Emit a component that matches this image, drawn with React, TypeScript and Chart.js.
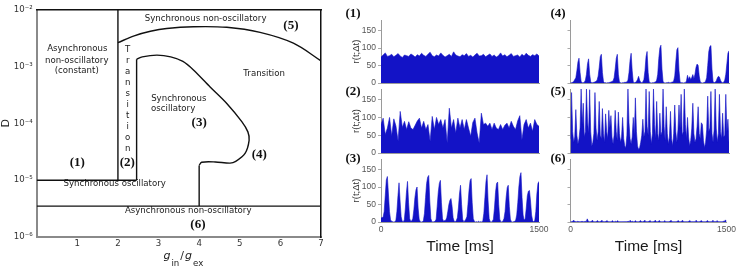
import React, { useEffect, useRef } from 'react';
import { Chart, registerables } from 'chart.js';

Chart.register(...registerables);

const BLUE = '#1313c6';
const TIME_MAX = 1500;

// ---------- Phase diagram data (x: g_in/g_ex, y: log10 D) ----------
const lowSyncTopG = [0, 2.46];
const lowSyncTopLogD = [-5, -5];
const transitionLeftG = [2, 2];
const transitionLeftLogD = [-5, -2];
const transitionRightG = [2.46, 2.46];
const transitionRightLogD = [-5, -2.873];
const oscBoundaryG = [2.46, 2.6, 2.96, 3.3, 3.6, 3.86, 4.27, 4.68, 5.05, 5.2, 5.23, 5.13, 4.9, 4.76, 4.4, 4.06, 4.0];
const oscBoundaryLogD = [-2.873, -2.83, -2.8, -2.83, -2.91, -3.06, -3.36, -3.65, -3.97, -4.15, -4.3, -4.53, -4.67, -4.7, -4.68, -4.685, -4.74];
const oscStemG = [4.0, 4.0];
const oscStemLogD = [-4.74, -5.456];
const asyncTopG = [0, 7];
const asyncTopLogD = [-5.456, -5.456];
const upperBoundaryG = [2, 2.4, 2.8, 3.2, 3.86, 4.68, 5.5, 6.32, 7];
const upperBoundaryLogD = [-2.58, -2.46, -2.38, -2.33, -2.3, -2.31, -2.4, -2.59, -2.9];

const regionTexts = ['Asynchronous', 'non-oscillatory', '(constant)', 'Synchronous non-oscillatory', 'Transition', 'Synchronous', 'oscillatory', 'Synchronous oscillatory', 'Asynchronous non-oscillatory'];
const regionTextG = [1.0, 0.985, 0.985, 4.16, 5.6, 3.5, 3.36, 1.92, 3.73];
const regionTextLogD = [-2.69, -2.9, -3.08, -2.152, -3.12, -3.56, -3.74, -5.056, -5.544];
const regionIds = ['(1)', '(2)', '(3)', '(4)', '(5)', '(6)'];
const regionIdG = [1.0, 2.23, 4.0, 5.48, 6.26, 3.97];
const regionIdLogD = [-4.687, -4.687, -3.98, -4.558, -2.287, -5.79];
const verticalText = 'Transition';
const verticalTextG = 2.24;
const verticalTextLogD = -2.697;

// ---------- Population rate histograms r(t;Δt), 0..1500 ms ----------
const rate1 = [
  74, 80, 86, 76, 78, 82, 75, 79, 84, 77,
  73, 80, 78, 76, 83, 79, 74, 81, 77, 85,
  79, 76, 82, 88, 78, 75, 80, 77, 86, 79,
  74, 78, 82, 76, 89, 80, 77, 75, 81, 78,
  84, 76, 79, 74, 80, 85, 77, 78, 82, 75,
  79, 83, 76, 80, 74, 78, 86, 77, 81, 75,
  79, 84, 76, 78, 80, 74, 82, 77, 85, 79,
  76, 81, 78, 83, 77,
];
const rate2 = [
  80, 98, 52, 70, 100, 48, 96, 76, 34, 117,
  72, 89, 66, 88, 70, 66, 78, 90, 98, 70,
  89, 66, 80, 33, 103, 66, 100, 80, 94, 70,
  94, 28, 126, 70, 94, 56, 98, 70, 94, 66,
  94, 70, 47, 86, 98, 56, 28, 112, 80, 84,
  75, 84, 66, 84, 70, 66, 80, 66, 78, 84,
  70, 89, 75, 66, 90, 105, 37, 80, 94, 70,
  84, 61, 94, 80, 75,
];
const rate3 = [
  12, 12, 14, 30, 75, 120, 130, 80, 30, 6,
  2, 1, 0, 1, 4, 30, 75, 112, 60, 15,
  2, 1, 6, 40, 85, 116, 55, 10, 2, 3,
  10, 35, 70, 92, 100, 40, 8, 1, 0, 1,
  4, 25, 70, 110, 128, 133, 60, 10, 1, 0,
  1, 2, 8, 45, 85, 110, 119, 55, 10, 2,
  4, 5, 12, 30, 50, 62, 67, 45, 12, 2,
  1, 4, 12, 40, 80, 105, 50, 8, 1, 3,
  8, 15, 50, 90, 118, 124, 55, 10, 2, 0,
  1, 0, 2, 0, 1, 0, 3, 25, 70, 115,
  135, 60, 10, 1, 0, 2, 8, 40, 85, 110,
  114, 50, 8, 1, 0, 3, 10, 30, 70, 98,
  105, 45, 8, 1, 0, 1, 2, 5, 20, 55,
  100, 130, 141, 70, 20, 5, 10, 40, 75, 88,
  90, 60, 20, 4, 1, 4, 30, 80, 110, 116,
];
const rate4 = [
  1, 1, 2, 4, 10, 15, 35, 60, 71, 30,
  4, 1, 1, 2, 8, 25, 55, 69, 25, 3,
  1, 1, 2, 3, 5, 8, 20, 45, 75, 82,
  30, 4, 1, 1, 0, 1, 1, 2, 3, 4,
  6, 15, 40, 70, 82, 25, 3, 1, 0, 1,
  1, 2, 2, 3, 8, 30, 65, 85, 35, 3,
  1, 2, 4, 10, 19, 8, 2, 1, 3, 10,
  35, 75, 90, 30, 3, 1, 0, 1, 1, 2,
  3, 8, 25, 70, 100, 108, 40, 4, 1, 0,
  1, 1, 2, 1, 1, 2, 3, 6, 20, 60,
  95, 101, 35, 3, 1, 1, 0, 1, 1, 6,
  22, 10, 18, 10, 16, 24, 12, 25, 45, 54,
  50, 20, 3, 1, 0, 1, 2, 5, 15, 50,
  90, 104, 107, 40, 4, 1, 2, 6, 14, 19,
  17, 8, 2, 1, 2, 8, 25, 55, 85, 92,
];
const rate5 = [
  40, 170, 60, 30, 45, 122, 50, 25, 40, 70,
  180, 80, 140, 45, 60, 180, 90, 55, 178, 60,
  20, 30, 55, 170, 70, 35, 60, 145, 50, 40,
  125, 55, 30, 110, 60, 40, 120, 70, 105, 45,
  25, 50, 120, 60, 35, 115, 55, 30, 45, 100,
  40, 20, 15, 50, 180, 85, 40, 25, 45, 100,
  50, 155, 60, 20, 10, 15, 30, 50, 95, 45,
  60, 180, 75, 50, 173, 60, 25, 55, 180, 80,
  40, 145, 55, 35, 112, 50, 60, 180, 75, 35,
  130, 55, 25, 45, 117, 40, 20, 55, 135, 60,
  30, 65, 135, 70, 165, 50, 60, 180, 80, 40,
  100, 45, 20, 35, 70, 140, 55, 30, 40, 75,
  130, 55, 40, 85, 80, 35, 15, 30, 65, 160,
  60, 70, 173, 55, 30, 65, 180, 70, 30, 55,
  165, 60, 40, 112, 45, 50, 165, 60, 95, 30,
];
const rate6 = [
  2, 1, 2, 5, 2, 1, 1, 2, 1, 1,
  1, 2, 1, 1, 2, 1, 9, 2, 1, 1,
  2, 5, 1, 1, 1, 2, 4, 1, 1, 2,
  5, 1, 1, 1, 2, 4, 1, 1, 1, 1,
  4, 1, 1, 2, 1, 4, 1, 1, 1, 1,
  1, 1, 1, 1, 1, 2, 1, 5, 1, 2,
  1, 1, 4, 1, 1, 1, 2, 4, 1, 1,
  2, 5, 1, 1, 1, 2, 4, 1, 1, 1,
  2, 5, 1, 1, 2, 4, 1, 1, 1, 1,
  4, 1, 1, 1, 1, 2, 5, 1, 1, 1,
  1, 1, 2, 4, 1, 1, 2, 5, 1, 1,
  1, 1, 1, 2, 4, 1, 1, 1, 1, 1,
  5, 1, 1, 1, 2, 4, 1, 1, 1, 1,
  2, 4, 1, 1, 1, 1, 5, 1, 1, 1,
  4, 1, 1, 1, 1, 1, 2, 2, 6, 2,
];
const panelLabels = ['(1)', '(2)', '(3)', '(4)', '(5)', '(6)'];
const panelRates = [rate1, rate2, rate3, rate4, rate5, rate6];

// ---------- helpers ----------
const SUP: Record<string, string> = { '-': '⁻', '0': '⁰', '1': '¹', '2': '²', '3': '³', '4': '⁴', '5': '⁵', '6': '⁶', '7': '⁷', '8': '⁸', '9': '⁹' };
const sup = (n: number) => String(n).split('').map((c) => SUP[c] || c).join('');
const toPts = (g: number[], ld: number[]) => g.map((v, i) => ({ x: v, y: Math.pow(10, ld[i]) }));

const phaseTextPlugin = {
  id: 'phaseText',
  afterDatasetsDraw(chart: any) {
    const { ctx, chartArea } = chart;
    const xs = chart.scales.x;
    const ys = chart.scales.y;
    ctx.save();
    ctx.fillStyle = '#1a1a1a';
    ctx.textAlign = 'center';
    ctx.textBaseline = 'middle';
    ctx.font = '8.6px "DejaVu Sans"';
    regionTexts.forEach((t, i) => {
      ctx.fillText(t, xs.getPixelForValue(regionTextG[i]), ys.getPixelForValue(Math.pow(10, regionTextLogD[i])));
    });
    const vx = xs.getPixelForValue(verticalTextG);
    let vy = ys.getPixelForValue(Math.pow(10, verticalTextLogD));
    for (const ch of verticalText) {
      ctx.fillText(ch, vx, vy);
      vy += 11;
    }
    ctx.font = 'bold 13px "Liberation Serif"';
    ctx.fillStyle = '#111';
    regionIds.forEach((t, i) => {
      ctx.fillText(t, xs.getPixelForValue(regionIdG[i]), ys.getPixelForValue(Math.pow(10, regionIdLogD[i])));
    });
    // x-axis title g_in / g_ex
    const parts: [string, string, number][] = [
      ['g', 'italic 11px "DejaVu Sans"', 0],
      ['in', '8.6px "DejaVu Sans"', 7],
      ['/', '11px "DejaVu Sans"', 0],
      ['g', 'italic 11px "DejaVu Sans"', 0],
      ['ex', '8.6px "DejaVu Sans"', 7],
    ];
    let total = 0;
    const widths = parts.map(([t, f]) => {
      ctx.font = f;
      const w = ctx.measureText(t).width + 1;
      total += w;
      return w;
    });
    let px = (chartArea.left + chartArea.right) / 2 + 5 - total / 2;
    ctx.textAlign = 'left';
    ctx.textBaseline = 'alphabetic';
    ctx.fillStyle = '#222';
    parts.forEach(([t, f, dy], i) => {
      ctx.font = f;
      ctx.fillText(t, px, 258.5 + dy);
      px += widths[i];
    });
    ctx.restore();
  },
};

const panelLabelPlugin = {
  id: 'panelLabel',
  afterDraw(chart: any, _args: any, opts: any) {
    const { ctx, chartArea } = chart;
    ctx.save();
    ctx.font = 'bold 13px "Liberation Serif"';
    ctx.fillStyle = '#111';
    ctx.textAlign = 'center';
    ctx.textBaseline = 'middle';
    ctx.fillText(opts.text, chartArea.left + opts.dx, chartArea.top + opts.dy);
    ctx.restore();
  },
};

function phaseConfig(): any {
  const line = (g: number[], ld: number[], tension = 0) => ({
    data: toPts(g, ld),
    borderColor: '#111',
    borderWidth: 1.4,
    pointRadius: 0,
    fill: false,
    tension,
  });
  const axisFont = { family: 'DejaVu Sans', size: 8.6 };
  return {
    type: 'line',
    data: {
      datasets: [
        line(lowSyncTopG, lowSyncTopLogD),
        line(transitionLeftG, transitionLeftLogD),
        line(transitionRightG, transitionRightLogD),
        line(oscBoundaryG, oscBoundaryLogD, 0.3),
        line(oscStemG, oscStemLogD),
        line(asyncTopG, asyncTopLogD),
        line(upperBoundaryG, upperBoundaryLogD, 0.35),
      ],
    },
    options: {
      animation: false,
      responsive: false,
      maintainAspectRatio: false,
      events: [],
      layout: { padding: { top: 9.7, right: 15, left: 0, bottom: 0 } },
      plugins: { legend: { display: false }, tooltip: { enabled: false } },
      scales: {
        x: {
          type: 'linear',
          position: 'bottom',
          min: 0,
          max: 7,
          ticks: { stepSize: 1, callback: (v: number) => (v === 0 ? '' : String(v)), font: axisFont, color: '#333', padding: 2, maxRotation: 0, autoSkip: false },
          grid: { display: false, drawTicks: false },
          border: { color: '#8a8a8a', width: 2 },
          afterFit: (s: any) => { s.height = 31; },
        },
        y: {
          type: 'logarithmic',
          position: 'left',
          min: 1e-6,
          max: 1e-2,
          ticks: {
            autoSkip: false,
            font: axisFont,
            color: '#333',
            padding: 4,
            callback: (v: number) => {
              const e = Math.log10(v);
              return Math.abs(e - Math.round(e)) < 1e-9 ? '10' + sup(Math.round(e)) : '';
            },
          },
          grid: { display: false, drawTicks: false },
          border: { color: '#8a8a8a', width: 2 },
          title: { display: true, text: 'D', font: { family: 'DejaVu Sans', size: 11 }, color: '#222', padding: 0 },
          afterFit: (s: any) => { s.width = 36.7; },
        },
        xTop: {
          type: 'linear',
          position: 'top',
          min: 0,
          max: 7,
          ticks: { display: false },
          grid: { display: false, drawTicks: false },
          border: { color: '#111', width: 1.5 },
          afterFit: (s: any) => { s.height = 0; },
        },
        yRight: {
          type: 'logarithmic',
          position: 'right',
          min: 1e-6,
          max: 1e-2,
          ticks: { display: false },
          grid: { display: false, drawTicks: false },
          border: { color: '#111', width: 1.5 },
          afterFit: (s: any) => { s.width = 0; },
        },
      },
    },
    plugins: [phaseTextPlugin],
  };
}

const LABEL_DY = [-6, 2.5, -0.5];

function panelConfig(values: number[], label: string, col: number, row: number): any {
  const n = values.length;
  const points = values.map((v, i) => ({ x: (i * TIME_MAX) / (n - 1), y: v }));
  const bottomRow = row === 2;
  const firstCol = col === 0;
  const tickFont = { family: 'Liberation Sans', size: 8.5 };
  return {
    type: 'line',
    data: {
      datasets: [
        { data: points, borderColor: BLUE, backgroundColor: BLUE, borderWidth: 0.6, fill: 'origin', pointRadius: 0, tension: 0 },
      ],
    },
    options: {
      animation: false,
      responsive: false,
      maintainAspectRatio: false,
      events: [],
      layout: { padding: { top: 20, right: firstCol ? 13 : 10, left: 0, bottom: 0 } },
      plugins: {
        legend: { display: false },
        tooltip: { enabled: false },
        panelLabel: { text: label, dx: firstCol ? -28 : -12.5, dy: LABEL_DY[row] },
      },
      scales: {
        x: {
          type: 'linear',
          min: 0,
          max: TIME_MAX,
          ticks: { display: bottomRow, stepSize: 1500, callback: (v: number) => String(v), font: tickFont, color: '#555', padding: 3, maxRotation: 0, autoSkip: false },
          grid: { display: false, drawTicks: false },
          border: { color: '#9a9a9a', width: 1 },
          title: { display: bottomRow, text: 'Time [ms]', font: { family: 'Liberation Sans', size: 15.5 }, color: '#1a1a1a', padding: { top: 0, bottom: 12.4 } },
          afterFit: (s: any) => { s.height = bottomRow ? 46 : 8; },
        },
        y: {
          min: 0,
          max: 180,
          ticks: { display: firstCol, stepSize: 50, includeBounds: false, font: tickFont, color: '#555', padding: 2 },
          grid: { drawOnChartArea: false, drawTicks: true, tickLength: 3, color: '#aaa' },
          border: { color: '#9a9a9a', width: 1 },
          title: { display: firstCol, text: 'r(t;Δt)', font: { family: 'Liberation Sans', size: 9.5 }, color: '#333', padding: { top: 10.3, bottom: 0 } },
          afterFit: (s: any) => { s.width = firstCol ? 41 : 20.5; },
        },
      },
    },
    plugins: [panelLabelPlugin],
  };
}

function ChartCanvas({ make, left, top, width, height }: { make: () => any; left: number; top: number; width: number; height: number }) {
  const ref = useRef<HTMLCanvasElement>(null);
  useEffect(() => {
    const chart = new Chart(ref.current as HTMLCanvasElement, make());
    return () => chart.destroy();
  }, []);
  return <canvas ref={ref} width={width} height={height} style={{ position: 'absolute', left, top, width, height }} />;
}

const ROW_TOP = [0, 69, 139];
const ROW_HEIGHT = [91, 92, 129];
const COL_LEFT = [340, 550];
const COL_WIDTH = [212, 189];

export default function App() {
  return (
    <div style={{ position: 'fixed', left: 0, top: 0, width: 739, height: 268, background: '#fff', overflow: 'hidden' }}>
      <ChartCanvas make={phaseConfig} left={0} top={0} width={336} height={268} />
      {panelRates.map((vals, k) => {
        const col = k < 3 ? 0 : 1;
        const row = k % 3;
        return (
          <ChartCanvas
            key={k}
            make={() => panelConfig(vals, panelLabels[k], col, row)}
            left={COL_LEFT[col]}
            top={ROW_TOP[row]}
            width={COL_WIDTH[col]}
            height={ROW_HEIGHT[row]}
          />
        );
      })}
    </div>
  );
}
